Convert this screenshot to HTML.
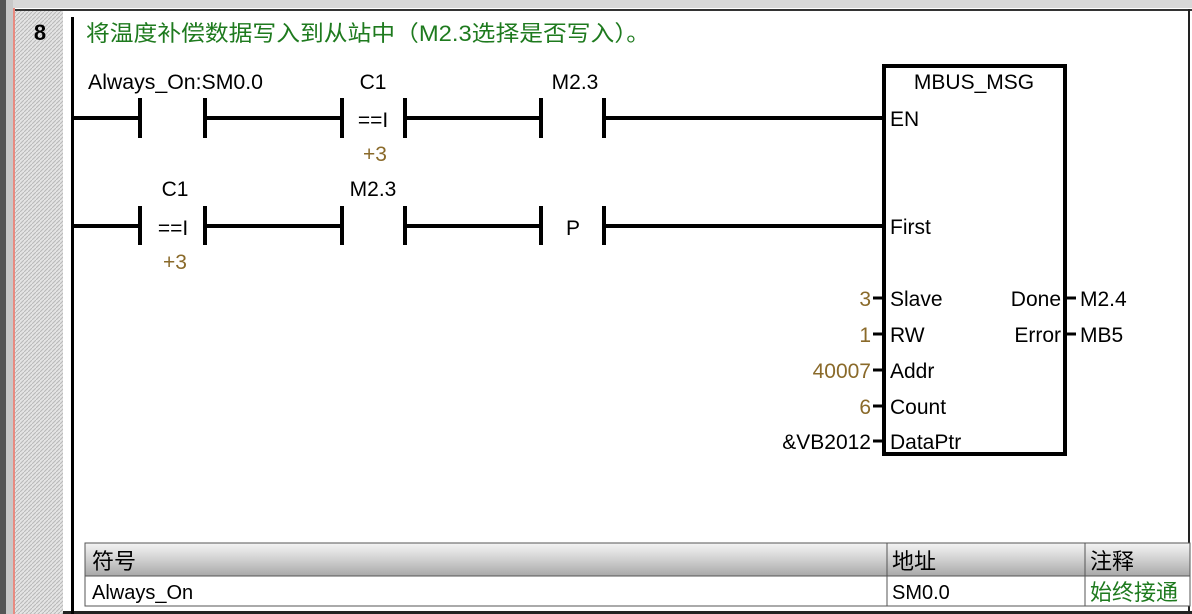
<!DOCTYPE html>
<html><head><meta charset="utf-8"><style>
body{margin:0;width:1192px;height:614px;overflow:hidden;background:#fff}
svg{display:block}
text{font-family:"Liberation Sans","Noto Sans CJK SC",sans-serif}
</style></head><body>
<svg width="1192" height="614" viewBox="0 0 1192 614" xmlns="http://www.w3.org/2000/svg">
<defs>
<pattern id="h" width="4" height="4" patternUnits="userSpaceOnUse">
<rect width="4" height="4" fill="#e4e4e4"/><path d="M0 4L4 0" stroke="#b8b8b8" stroke-width="1"/>
</pattern>
<linearGradient id="g" x1="0" y1="0" x2="0" y2="1">
<stop offset="0" stop-color="#f4f4f4"/><stop offset="0.5" stop-color="#d0d0d0"/><stop offset="1" stop-color="#a8a8a8"/>
</linearGradient>
</defs>
<rect x="0" y="0" width="1192" height="8" fill="#d8d8d8"/>
<rect x="0" y="0" width="6" height="614" fill="#555"/>
<rect x="6" y="0" width="7" height="614" fill="#c8c8c8"/>
<rect x="13" y="8" width="2" height="606" fill="#e88a80"/>
<rect x="15" y="10" width="48" height="604" fill="url(#h)"/>
<rect x="15" y="9" width="1177" height="2" fill="#333"/>
<rect x="1188" y="9" width="2" height="605" fill="#222"/>
<rect x="63" y="611" width="1129" height="3" fill="#222"/>
<text x="40" y="40" font-size="22" font-weight="bold" text-anchor="middle" fill="#000">8</text>
<rect x="71" y="17" width="3" height="597" fill="#000"/>
<text x="86" y="41" font-size="22" fill="#1e7a1e" textLength="564" lengthAdjust="spacingAndGlyphs">将温度补偿数据写入到从站中（M2.3选择是否写入）。</text>
<g stroke="#000" stroke-width="4" fill="none">
<path d="M74 118H140M205 118H342M405 118H541M604 118H884"/>
<path d="M140 98V138M205 98V138M342 98V138M405 98V138M541 98V138M604 98V138"/>
<path d="M74 226H140M205 226H342M405 226H541M604 226H884"/>
<path d="M140 206V245M205 206V245M342 206V245M405 206V245M541 206V245M604 206V245"/>
<rect x="884" y="66" width="181" height="388"/>
</g>
<g stroke="#000" stroke-width="3">
<path d="M873 298H884M873 334H884M873 370H884M873 406H884M873 441H884M1065 298H1076M1065 334H1076"/>
</g>
<g font-size="21" fill="#000">
<text x="88" y="89" textLength="175" lengthAdjust="spacingAndGlyphs">Always_On:SM0.0</text>
<text x="373" y="89" text-anchor="middle">C1</text>
<text x="575" y="89" text-anchor="middle">M2.3</text>
<text x="373" y="127" text-anchor="middle">==I</text>
<text x="175" y="196" text-anchor="middle">C1</text>
<text x="373" y="196" text-anchor="middle">M2.3</text>
<text x="173" y="235" text-anchor="middle">==I</text>
<text x="573" y="235" text-anchor="middle">P</text>
<text x="974" y="89" text-anchor="middle">MBUS_MSG</text>
<text x="890" y="126">EN</text>
<text x="890" y="234">First</text>
<text x="890" y="306">Slave</text>
<text x="890" y="342">RW</text>
<text x="890" y="378">Addr</text>
<text x="890" y="414">Count</text>
<text x="890" y="449">DataPtr</text>
<text x="1061" y="306" text-anchor="end">Done</text>
<text x="1061" y="342" text-anchor="end">Error</text>
<text x="1080" y="306">M2.4</text>
<text x="1080" y="342">MB5</text>
<text x="871" y="449" text-anchor="end">&amp;VB2012</text>
</g>
<g font-size="21" fill="#8a6a2a">
<text x="375" y="161" text-anchor="middle">+3</text>
<text x="175" y="269" text-anchor="middle">+3</text>
<text x="871" y="306" text-anchor="end">3</text>
<text x="871" y="342" text-anchor="end">1</text>
<text x="871" y="378" text-anchor="end">40007</text>
<text x="871" y="414" text-anchor="end">6</text>
</g>
<rect x="85" y="543" width="1105" height="33" fill="url(#g)" stroke="#555" stroke-width="1"/>
<rect x="85" y="576" width="1105" height="30" fill="#fff" stroke="#555" stroke-width="1"/>
<path d="M887 543V606M1085 543V606" stroke="#555" stroke-width="1"/>
<g font-size="22" fill="#000">
<text x="92" y="569">符号</text>
<text x="892" y="569">地址</text>
<text x="1090" y="569">注释</text>
<text x="92" y="599" font-size="20">Always_On</text>
<text x="892" y="599" font-size="20">SM0.0</text>
<text x="1090" y="600" fill="#1e7a1e">始终接通</text>
</g>
</svg>
</body></html>
